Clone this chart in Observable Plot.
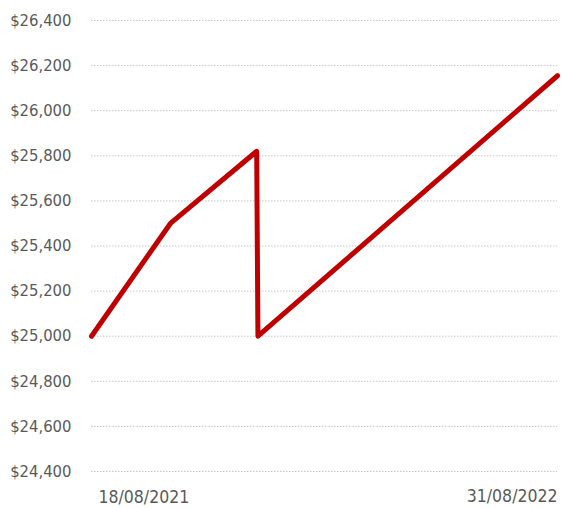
<!DOCTYPE html>
<html><head><meta charset="utf-8">
<script src="https://cdn.jsdelivr.net/npm/d3@7"></script>
<script src="https://cdn.jsdelivr.net/npm/@observablehq/plot@0.6"></script>
<style>
body{margin:0;background:#fff;}
</style>
</head><body>
<div id="chart"></div>
<script>
const dates = ["2021-08-18","2021-10-21","2021-12-30","2021-12-31","2022-08-31"];
const values = [25000, 25500, 25820, 25000, 26155];
const yTicks = [24400,24600,24800,25000,25200,25400,25600,25800,26000,26200,26400];
const xTickDates = ["2021-08-18","2022-08-31"];
const xTickLabels = ["18/08/2021","31/08/2022"];

const data = dates.map((d,i)=>({date:new Date(d+"T00:00:00Z"), value:values[i]}));
const xt = xTickDates.map((d,i)=>({date:new Date(d+"T00:00:00Z"), label:xTickLabels[i], anchor: i===0?"start":"end"}));

const chart = Plot.plot({
  width:571, height:508,
  marginLeft:91, marginRight:14, marginTop:20, marginBottom:37,
  style:{fontFamily:"'DejaVu Sans Condensed',sans-serif", background:"#fff"},
  x:{type:"utc", domain:[new Date("2021-08-18T00:00:00Z"), new Date("2022-08-31T00:00:00Z")], axis:null},
  y:{domain:[24400,26400], axis:null},
  marks:[
    Plot.gridY(yTicks,{stroke:"#c8c8c8", strokeOpacity:1, strokeDasharray:"1.5,1.5", strokeWidth:1}),
    Plot.text(yTicks,{x:()=>new Date("2021-08-18T00:00:00Z"), y:d=>d, text:d=>"$"+d3.format(",")(d), textAnchor:"end", dx:-20, fontSize:16.5, fill:"#595959"}),
    Plot.line(data,{x:"date", y:"value", stroke:"#c00000", strokeWidth:5, strokeLinejoin:"round", strokeLinecap:"round"}),
    Plot.text(xt.filter(d=>d.anchor==="start"),{x:"date", y:()=>24400, text:"label", textAnchor:"start", dx:7, dy:26, fontSize:17.5, fill:"#595959"}),
    Plot.text(xt.filter(d=>d.anchor==="end"),{x:"date", y:()=>24400, text:"label", textAnchor:"end", dx:0, dy:25, fontSize:17.5, fill:"#595959"})
  ]
});
document.getElementById("chart").appendChild(chart);
</script>
</body></html>
